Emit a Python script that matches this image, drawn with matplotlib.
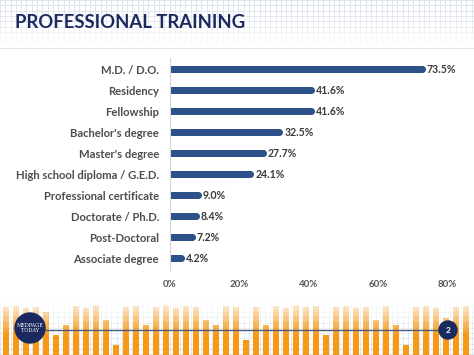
import numpy as np
import matplotlib
matplotlib.use("Agg")
import matplotlib.pyplot as plt
from matplotlib.patches import Circle

# chart data
categories = ["M.D. / D.O.", "Residency", "Fellowship", "Bachelor's degree",
              "Master's degree", "High school diploma / G.E.D.",
              "Professional certificate", "Doctorate / Ph.D.",
              "Post-Doctoral", "Associate degree"]
values = [73.5, 41.6, 41.6, 32.5, 27.7, 24.1, 9.0, 8.4, 7.2, 4.2]
xticks = [0, 20, 40, 60, 80]

# decorative footer bars (top edge in px, one every 10 px)
footer_tops = [307, 306, 308, 307, 312, 335, 325, 306, 308, 305,
               320, 345, 307, 306, 325, 307, 305, 308, 306, 307,
               320, 325, 306, 307, 340, 307, 325, 306, 308, 305,
               307, 306, 335, 307, 306, 308, 307, 320, 306, 325,
               345, 307, 306, 308, 318, 307, 306]

navy = "#1b2a5e"
bar_col = "#2c5289"
W, H = 474, 355

plt.rcParams["font.family"] = ["Lato", "DejaVu Sans"]
fig = plt.figure(figsize=(W / 100, H / 100), dpi=100)

# background / decoration in pixel coordinates
bg = fig.add_axes([0, 0, 1, 1])
bg.set_xlim(0, W)
bg.set_ylim(H, 0)
bg.axis("off")

grid_c = "#d9e0ea"
step = 5.3
for x in np.arange(0, W, step):
    bg.plot([x, x], [0, 48], color=grid_c, lw=0.6, zorder=0)
    bg.plot([x, x], [296, H], color=grid_c, lw=0.6, zorder=0)
for y in np.arange(0, 48, step):
    bg.plot([0, W], [y, y], color=grid_c, lw=0.6, zorder=0)
for y in np.arange(296, H, step):
    bg.plot([0, W], [y, y], color=grid_c, lw=0.6, zorder=0)

# fade the grids out towards the chart
fade = np.ones((100, 2, 4))
fade[:, :, 3] = np.linspace(0, 1, 100)[:, None] ** 1.5
bg.imshow(fade, extent=(0, W, 48, 0), aspect="auto", zorder=1)
fade2 = np.ones((100, 2, 4))
fade2[:, :, 3] = np.linspace(1, 0, 100)[:, None] ** 1.2
bg.imshow(fade2, extent=(0, W, H, 296), aspect="auto", zorder=1)

# orange footer bars with gradient
orange = np.array([0.97, 0.60, 0.08])
for i, top in enumerate(footer_tops):
    x0 = 3 + i * 10
    n = 60
    t = np.linspace(0, 1, n)[:, None]
    img = np.zeros((n, 1, 4))
    img[:, :, :3] = orange
    img[:, :, 3] = np.clip(t * 1.5, 0, 1) ** 1.1
    lo = (top - 296) / (H - 296)
    img = img[int(lo * (n - 1)):]
    bg.imshow(img, extent=(x0, x0 + 5.5, H, top), aspect="auto", zorder=2,
              interpolation="bilinear")

bg.plot([45, 440], [330, 330], color="#4a5a7a", lw=1, zorder=3)
bg.add_patch(Circle((30, 328), 15, color=navy, zorder=4))
bg.text(30, 328, "MEDPAGE\nTODAY", color="white", fontsize=3.6,
        family="DejaVu Serif", ha="center", va="center", linespacing=0.9,
        zorder=5)
bg.add_patch(Circle((448, 330), 9, color=navy, zorder=4))
bg.text(448, 330.5, "2", color="white", fontsize=6, fontweight="bold",
        ha="center", va="center", zorder=5)

bg.text(15, 22, "PROFESSIONAL TRAINING", color=navy, fontsize=13.3,
        fontweight="bold", ha="left", va="center", zorder=5)

# the chart
ax = fig.add_axes([170 / W, (H - 270) / H, 277.6 / W, 212 / H])
ax.patch.set_alpha(0)
ypos = np.arange(len(categories))
bh = 7 / 21
r = 1.0
ax.barh(ypos, [v - r for v in values], height=bh, color=bar_col,
        linewidth=0, zorder=2)
ax.scatter([v - r for v in values], ypos, s=(bh * 21 * 0.72) ** 2,
           color=bar_col, linewidths=0, zorder=2)
for y, v in zip(ypos, values):
    ax.text(v + 0.5, y, f"{v:.1f}%", fontsize=7.6, fontweight="bold",
            color="#3a3a3a", ha="left", va="center")

ax.set_xlim(0, 80)
ax.set_ylim(9.57, -0.54)
ax.set_yticks(ypos)
ax.set_yticklabels(categories, fontsize=8.1, fontweight="bold", color="#4d4d4d")
ax.set_xticks(xticks)
ax.set_xticklabels([f"{t}%" for t in xticks], fontsize=7,
                   fontweight="bold", color="#555555")
ax.tick_params(axis="both", length=0)
ax.tick_params(axis="y", pad=8)
ax.tick_params(axis="x", pad=7)
for s in ["top", "right", "bottom"]:
    ax.spines[s].set_visible(False)
ax.spines["left"].set_color("#d6d6d6")
ax.spines["left"].set_linewidth(0.8)

fig.savefig("out.png", dpi=100)
